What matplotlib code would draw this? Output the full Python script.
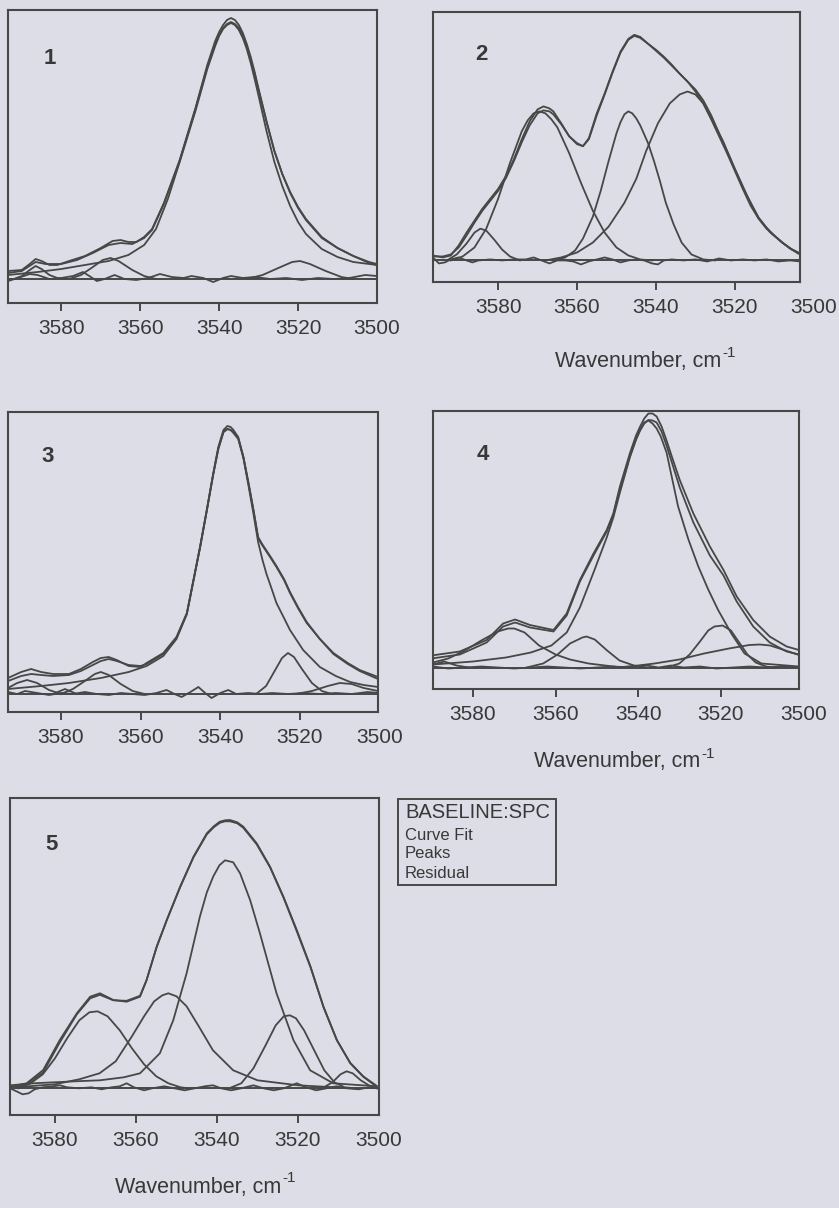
import matplotlib
matplotlib.use("Agg")
import matplotlib.pyplot as plt
from matplotlib.patches import Rectangle

plt.rcParams['font.family'] = ['Liberation Sans', 'DejaVu Sans']

BG = '#dcdde6'
INK = '#474747'
TEXT = '#383838'
W, H = 839, 1208

TICKS = [3580, 3560, 3540, 3520, 3500]

# ---------------- panel 1 (wavenumber, intensity a.u.) ----------------
p1_spectrum = [(3593.5, 8), (3590, 9), (3588, 15), (3586.5, 20), (3585, 18), (3583, 14), (3581, 14),
               (3578, 18), (3574, 23), (3570, 31), (3567, 38), (3565, 39), (3563, 37), (3561, 37),
               (3559, 42), (3557, 50), (3554, 76), (3550, 119), (3546, 171), (3543, 214), (3541, 238),
               (3540, 247), (3539, 254), (3538, 259), (3537, 261), (3536, 259), (3535, 254), (3534, 246),
               (3533, 235), (3532, 222), (3531, 207), (3530, 190), (3528, 158), (3526, 128), (3524, 105),
               (3522, 86), (3520, 71), (3518, 59), (3514, 41), (3510, 31), (3506, 23), (3502, 16), (3500, 14)]
p1_fit = [(3593.5, 6), (3590, 8), (3586.5, 17), (3584, 15), (3580, 15), (3576, 19), (3572, 26), (3568, 34),
          (3565, 36), (3562, 35), (3559, 41), (3557, 49), (3554, 75), (3550, 118), (3546, 170), (3543, 212),
          (3541, 235), (3540, 244), (3539, 251), (3538, 255), (3537, 257), (3536, 255), (3535, 251),
          (3534, 243), (3533, 233), (3532, 220), (3531, 205), (3530, 189), (3528, 157), (3526, 128),
          (3524, 105), (3522, 87), (3520, 72), (3518, 60), (3514, 42), (3510, 31), (3506, 23), (3502, 17),
          (3500, 15)]
p1_peak_a = [(3593.5, 4), (3586, 7), (3580, 10), (3574, 14), (3568, 18), (3563, 24), (3559, 34), (3556, 50),
             (3553, 80), (3550, 117), (3546, 168), (3543, 210), (3541, 233), (3540, 243), (3539, 250),
             (3538, 254), (3537, 256), (3536, 254), (3535, 249), (3534, 241), (3533, 230), (3532, 216),
             (3531, 200), (3530, 183), (3528, 148), (3526, 117), (3524, 93), (3522, 73), (3520, 57),
             (3518, 45), (3514, 30), (3510, 22), (3506, 17), (3502, 15), (3500, 14)]
p1_peak_b = [(3592, 0), (3590, 3), (3588, 9), (3586.5, 13), (3585, 10), (3583, 4), (3581, 1), (3579, 0)]
p1_peak_c = [(3578, 0), (3575, 4), (3572, 12), (3569.5, 19), (3567.5, 21), (3565.5, 18), (3562, 9),
             (3559, 3), (3556, 0)]
p1_peak_d = [(3533, 0), (3529, 4), (3525, 11), (3521.5, 17), (3519.5, 18), (3517, 15), (3513, 8),
             (3509, 2), (3506, 0)]
p1_residual = [(3593.5, -2), (3591, 1), (3588, 5), (3586, 4), (3583, 0), (3580, 1), (3577, 3), (3574.5, 7),
               (3572.5, 2), (3571, -2), (3569, 0), (3566.5, 4), (3564, 0), (3561, -1), (3558, 1), (3555, 5),
               (3552, 2), (3549, 1), (3547, 3), (3544, 1), (3541.5, -3), (3539, 1), (3537, 3), (3534, 1),
               (3531, 2), (3527, 0), (3523, 1), (3519, -1), (3515, 1), (3511, 0), (3507, 1), (3503, 4),
               (3500, 3)]

# ---------------- panel 2 ----------------
p2_spectrum = [(3596.5, 5), (3594, 3), (3592, 5), (3590, 15), (3588, 28), (3586, 40), (3584, 52), (3582, 62),
               (3580, 72), (3578, 85), (3576, 102), (3574, 122), (3572, 140), (3570, 152), (3568.5, 155),
               (3567, 153), (3566, 150), (3564, 138), (3562, 125), (3560, 118), (3558.5, 115), (3557, 123),
               (3555, 148), (3553, 168), (3551, 190), (3549, 210), (3547, 223), (3545.5, 227), (3544, 225),
               (3542, 218), (3540, 212), (3538, 205), (3536, 197), (3534, 188), (3532, 180), (3530, 170),
               (3528, 158), (3526, 142), (3524, 125), (3522, 108), (3520, 90), (3518, 72), (3516, 55),
               (3514, 42), (3512, 32), (3510, 25), (3508, 18), (3506, 12), (3504, 7), (3503.5, 6)]
p2_fit = [(3596.5, 4), (3594, 4), (3592, 6), (3590, 13), (3588, 25), (3586, 38), (3584, 50), (3582, 60),
          (3580, 70), (3578, 83), (3576, 100), (3574, 119), (3572, 136), (3570, 148), (3568.5, 151),
          (3567, 150), (3566, 147), (3564, 137), (3562, 125), (3560, 117), (3558.5, 115), (3557, 122),
          (3555, 146), (3553, 167), (3551, 189), (3549, 209), (3547, 222), (3545.5, 226), (3544, 224),
          (3542, 218), (3540, 211), (3538, 204), (3536, 196), (3534, 188), (3532, 180), (3530, 172),
          (3528, 161), (3526, 146), (3524, 128), (3522, 110), (3520, 92), (3518, 74), (3516, 57),
          (3514, 43), (3512, 33), (3510, 25), (3508, 18), (3506, 12), (3504, 8), (3503.5, 7)]
p2_peak_a = [(3593, 0), (3590.5, 6), (3588, 17), (3586, 28), (3584.5, 32), (3583, 30), (3581, 21),
             (3579, 11), (3577, 4), (3574.5, 0)]
p2_peak_b = [(3592, 0), (3589, 4), (3586, 13), (3583, 32), (3580, 62), (3577, 98), (3574, 130),
             (3572.5, 141), (3571, 148), (3569.5, 150), (3568, 148), (3566.5, 142), (3565, 134), (3562, 108),
             (3559, 78), (3556, 50), (3553, 28), (3550, 13), (3547, 5), (3544, 1), (3541, 0)]
p2_peak_c = [(3566, 0), (3563, 3), (3560.5, 10), (3558.5, 22), (3556, 44), (3554, 70), (3552, 100),
             (3550, 128), (3549, 139), (3548, 147), (3547, 150), (3546, 148), (3545, 143), (3544, 136),
             (3542, 118), (3540.5, 100), (3539, 80), (3537.5, 58), (3535.5, 36), (3533.5, 18), (3531, 6),
             (3528, 1), (3525, 0)]
p2_peak_d = [(3568, 0), (3564, 3), (3560, 8), (3556, 18), (3552, 34), (3548, 58), (3545, 82), (3542.5, 110),
             (3539.5, 138), (3536.5, 158), (3534, 167), (3532, 170), (3530, 167), (3528, 158), (3526, 143),
             (3523, 120), (3520, 92), (3517, 66), (3514, 43), (3511, 28), (3508, 18), (3505.5, 11),
             (3503.5, 7)]
p2_residual = [(3596.5, 3), (3595, -3), (3593.5, -2), (3592, 1), (3590, 3), (3588, 0), (3586.5, -2),
               (3585, 0), (3582, 1), (3579, 0), (3576, 1), (3573, 1), (3571, 3), (3569, 0), (3567, -3),
               (3565, 0), (3563, 0), (3561, -1), (3559, -4), (3557, -1), (3555, 1), (3553, 3), (3551, 1),
               (3549, -2), (3547, 0), (3545, 1), (3543, 0), (3541, -3), (3539.5, -4), (3538, 0), (3536, 1),
               (3533, 0), (3530, 1), (3527, -1), (3524, 2), (3521, 0), (3518, 1), (3515, 0), (3512, 1),
               (3509, -1), (3506, 0), (3503.5, -1)]

# ---------------- panel 3 ----------------
p3_spectrum = [(3593.3, 16), (3590, 22), (3587.5, 25), (3585, 22), (3582, 20), (3578, 20), (3575, 25),
               (3572, 32), (3570, 36), (3568, 37), (3566, 34), (3563, 28), (3560, 27), (3558.5, 31),
               (3554.3, 41), (3551, 57), (3548.4, 81), (3546.8, 113), (3545.1, 147), (3543.4, 184),
               (3541.8, 220), (3540.5, 247), (3539.2, 264), (3538.2, 268), (3537.4, 267), (3536.7, 264),
               (3535.5, 257), (3534.2, 237), (3532.9, 210), (3531.7, 184), (3530.5, 156), (3529.5, 149),
               (3527.5, 137), (3525.9, 127), (3524, 114), (3522.5, 101), (3520.5, 86), (3518.3, 71),
               (3515, 55), (3511.6, 41), (3508, 31), (3505, 24), (3500.4, 17)]
p3_fit = [(3593.3, 13), (3590, 18), (3587.5, 20), (3585, 19), (3582, 18), (3578, 19), (3575, 23), (3572, 29),
          (3570, 33), (3568, 35), (3566, 33), (3563, 29), (3560, 28), (3558.5, 30), (3554.3, 40), (3551, 56),
          (3548.4, 80), (3546.8, 112), (3545.1, 146), (3543.4, 183), (3541.8, 219), (3540.5, 245),
          (3539.2, 262), (3538.2, 265), (3537.4, 264), (3536.7, 262), (3535.5, 256), (3534.2, 237),
          (3532.9, 211), (3531.7, 185), (3530.5, 157), (3529.5, 150), (3527.5, 138), (3525.9, 128),
          (3524, 115), (3522.5, 102), (3520.5, 87), (3518.3, 72), (3515, 55), (3511.6, 40), (3508, 30),
          (3505, 23), (3500.4, 15)]
p3_peak_a = [(3593.3, 5), (3585, 8), (3578, 11), (3570, 16), (3563, 22), (3558.5, 28), (3554.3, 38),
             (3551, 55), (3548.4, 80), (3546.8, 112), (3545.1, 146), (3543.4, 183), (3541.8, 219),
             (3540.5, 245), (3539.2, 262), (3538.2, 265), (3537.4, 264), (3536.7, 261), (3535.5, 255),
             (3534.2, 236), (3532.9, 208), (3531.7, 181), (3530.5, 152), (3529.4, 134), (3528.4, 120),
             (3527, 104), (3525.9, 91), (3524, 76), (3522.5, 64), (3519.2, 44), (3515, 27), (3511, 18),
             (3507.4, 12), (3504, 9), (3500.4, 7)]
p3_peak_b = [(3531, 0), (3528.5, 8), (3526.5, 22), (3524.5, 36), (3523, 41), (3521.5, 37), (3519.5, 25),
             (3517, 11), (3514.5, 3), (3512, 0)]
p3_peak_c = [(3521, 0), (3517, 3), (3513, 8), (3510, 11), (3507, 10), (3504, 6), (3500.4, 3)]
p3_peak_d = [(3580, 0), (3577, 5), (3574, 13), (3571.5, 20), (3570, 22), (3568, 19), (3565, 10),
             (3562, 3), (3559, 0)]
p3_peak_e = [(3593.3, 6), (3591, 11), (3588.5, 14), (3586, 11), (3583, 4), (3580, 0)]
p3_peak_f = [(3582, 0), (3579, 5), (3576, 0)]
p3_residual = [(3593.3, 2), (3591, 0), (3589, 3), (3586, 1), (3583, -1), (3580, 1), (3577, 0), (3574, 2),
               (3571, 0), (3568, -1), (3565, 1), (3562, 0), (3559, -1), (3556, 1), (3553.5, 4), (3551.5, 0),
               (3549.7, -3), (3547.5, 2), (3545.5, 7), (3543.8, 1), (3542.2, -4), (3540, 1), (3538, 4),
               (3536, 0), (3533, 1), (3530, 0), (3527, 1), (3523, 0), (3519, 1), (3515, 0), (3511, 1),
               (3507, 0), (3503, 2), (3500.4, 1)]

# ---------------- panel 4 ----------------
p4_spectrum = [(3589.7, 12), (3589.2, 12.5), (3583.2, 16), (3576.7, 27.5), (3572.7, 44), (3569.8, 48),
               (3566.2, 42.5), (3560.5, 37.5), (3557.3, 54), (3554.1, 87.5), (3550.8, 114), (3547.6, 137.5),
               (3546, 154), (3544.4, 181), (3542, 214), (3540.5, 232), (3539.5, 241), (3538.5, 249),
               (3537.5, 254), (3536.5, 254), (3535.5, 251), (3534.3, 241), (3533.1, 227), (3531.5, 207),
               (3529.9, 187.5), (3526.6, 154), (3522.6, 121), (3519.3, 97.5), (3516.1, 71), (3512.1, 47.5),
               (3508.1, 31), (3504, 21), (3501, 17.5)]
p4_fit = [(3589.7, 9), (3589.2, 9.5), (3583.2, 13), (3576.7, 25), (3572.7, 41), (3569.8, 45), (3566.2, 40),
          (3560.5, 36), (3557.3, 52), (3554.1, 86), (3550.8, 112), (3547.6, 136), (3546, 152), (3544.4, 179),
          (3542, 211), (3540.5, 228), (3539.5, 237), (3538.5, 244), (3537.5, 247.5), (3536.5, 247),
          (3535.5, 245), (3534.3, 236), (3533.1, 222), (3531.5, 201), (3529.9, 180), (3526.6, 145),
          (3522.6, 112), (3519.3, 92), (3516.1, 66), (3512.1, 41), (3508.1, 25), (3504, 16), (3501, 13)]
p4_peak_a = [(3589.7, 3), (3580, 6), (3572, 10), (3566, 15), (3561, 22), (3557.3, 35), (3554.1, 60),
             (3550.8, 95), (3547.6, 130), (3546, 150), (3544.4, 175), (3542, 210), (3540.5, 228),
             (3539.5, 238), (3538.5, 245), (3537.5, 247), (3536.5, 244), (3535.5, 239), (3534.5, 231),
             (3533.1, 215), (3531.7, 188), (3530.3, 161), (3527.8, 128), (3525.4, 101), (3523, 78),
             (3520.6, 57.5), (3517.4, 34), (3514.2, 14), (3510.1, 4), (3501, 1)]
p4_peak_b = [(3589.7, 5), (3586, 9), (3582, 17), (3578, 27), (3574, 36), (3571.5, 39), (3570, 39),
             (3567.5, 35), (3564, 22), (3560, 13), (3556.5, 8), (3552, 4), (3548, 2), (3544, 0)]
p4_peak_c = [(3567, 0), (3563, 4), (3559.5, 13), (3556.5, 24), (3553.5, 30), (3552.5, 31), (3550.5, 28),
             (3547.5, 17), (3544.5, 7), (3541, 2), (3538, 0)]
p4_peak_d = [(3533, 0), (3530, 4), (3527.5, 13), (3525, 26), (3523, 37), (3521.5, 41), (3519.5, 42),
             (3517.5, 37), (3515.5, 25), (3513.5, 13), (3511.5, 5), (3509, 1), (3507, 0)]
p4_peak_e = [(3545, 0), (3540, 2), (3536, 4), (3530, 8), (3524, 14), (3518, 19), (3513, 22.5),
             (3510.5, 23), (3508, 22), (3505, 18), (3501, 12.5)]
p4_peak_f = [(3589.7, 3), (3587, 6), (3584, 2), (3581, 0)]
p4_residual = [(3589.7, 1), (3586, -1), (3582, 0), (3578, 1), (3574, 0), (3570, -1), (3566, 0), (3562, 1),
               (3558, 0), (3554, -1), (3550, 0), (3546, 1), (3542, 0), (3538, 2), (3535, 0), (3532, 2),
               (3529, 0), (3525, 1), (3521, -1), (3517, 0), (3513, 1), (3509, 0), (3505, 1), (3501, 0)]

# ---------------- panel 5 ----------------
p5_spectrum = [(3591.1, 1.7), (3587, 5), (3582.9, 18.3), (3578.8, 48.3), (3574.6, 75), (3571.3, 91.6),
               (3568.9, 95), (3565.6, 88.3), (3562.3, 86.6), (3559, 91.6), (3557.4, 108), (3554.9, 141.6),
               (3552.4, 168.3), (3549.1, 201.6), (3545.8, 231.6), (3542.5, 255), (3540.8, 262),
               (3539.3, 266.6), (3538, 268), (3536.8, 268.3), (3535, 266), (3533.5, 261.6), (3530.2, 245),
               (3526.9, 221.6), (3523.6, 191.6), (3520.3, 158.3), (3516.9, 121.6), (3513.7, 81.6),
               (3510.4, 48.3), (3507.1, 25), (3503.9, 11.6), (3500.6, 1.7)]
p5_fit = [(3591.1, 0), (3587, 4), (3582.9, 16), (3578.8, 46), (3574.6, 74), (3571.3, 90), (3568.9, 93.5),
          (3565.6, 88), (3562.3, 87.5), (3559, 92.5), (3557.4, 108), (3554.9, 141), (3552.4, 168),
          (3549.1, 201), (3545.8, 231), (3542.5, 254), (3540.8, 261), (3539.3, 265.5), (3538, 267),
          (3536.8, 267), (3535, 265), (3533.5, 260.5), (3530.2, 244), (3526.9, 221), (3523.6, 191),
          (3520.3, 157), (3516.9, 121), (3513.7, 81), (3510.4, 48), (3507.1, 25.5), (3503.9, 12),
          (3500.6, 2.5)]
p5_peak_a = [(3589, 0), (3586, 5), (3583, 14), (3580, 30), (3577, 50), (3574, 68), (3571.5, 76), (3569.5, 77),
             (3567, 72), (3564, 58), (3561, 40), (3558, 24), (3555, 12), (3552, 5), (3549, 1), (3547, 0)]
p5_peak_b = [(3590, 1), (3580, 4), (3574, 9), (3569, 15), (3565, 27), (3561, 52), (3558, 72), (3555.5, 87),
             (3553.5, 93), (3552, 95), (3550, 92), (3547.5, 82), (3544.5, 62), (3541, 38), (3536, 18),
             (3530, 8), (3520, 3), (3511, 1)]
p5_peak_c = [(3591, 3), (3585.3, 5), (3575, 7), (3568.9, 8), (3563, 11), (3559, 15), (3554.1, 35),
             (3550.8, 68), (3547.5, 115), (3544.2, 172), (3542.5, 196), (3540.9, 212), (3539.4, 223),
             (3538, 228), (3536, 226), (3534.3, 215), (3531.8, 188), (3529.4, 155), (3525.3, 95),
             (3521.1, 48), (3517, 18), (3511.3, 5), (3500.6, 2)]
p5_peak_d = [(3537, 0), (3534, 5), (3531, 20), (3528, 43), (3525.5, 63), (3523.5, 72), (3522, 73),
             (3520.5, 70), (3518.5, 58), (3516, 38), (3513.5, 18), (3511, 6), (3508.5, 1), (3506, 0)]
p5_peak_e = [(3514, 0), (3511.5, 6), (3509.5, 14), (3508, 17), (3506.5, 15), (3504.5, 8), (3502.5, 3),
             (3500.5, 0)]
p5_residual = [(3591.1, 0), (3589.5, -3), (3588, -6), (3586.5, -5), (3585, -1), (3583, 1), (3580.5, 2),
               (3578.8, 3), (3577, 1), (3574, 0), (3571, 1), (3568.5, -1), (3566, 1), (3564, 2), (3562.3, 5),
               (3560.5, 1), (3558, -2), (3556, 0), (3553, 2), (3550.5, 0), (3548, -2), (3545.5, 0), (3543, 2),
               (3541, 3), (3539, 0), (3536.5, -2), (3534, 0), (3531, 3), (3528.5, 0), (3526, -2),
               (3523.5, 0), (3520.3, 5), (3518, 1), (3515.5, -2), (3513, 0), (3510.5, 2), (3508, 0),
               (3505, -1), (3502.5, 1), (3500.6, 0)]

legend_lines = ['Curve Fit', 'Peaks', 'Residual']


def px_rect(x0, y0, x1, y1):
    return [x0 / W, 1 - y1 / H, (x1 - x0) / W, (y1 - y0) / H]


def draw_panel(ax, xlim, ylim, curves):
    ax.set_facecolor(BG)
    for pts in curves:
        xs, ys = zip(*pts)
        ax.plot(xs, ys, color=INK, lw=1.3, solid_joinstyle='round')
    ax.axhline(0, color=INK, lw=1.4)
    ax.set_xlim(*xlim)
    ax.set_ylim(*ylim)
    ax.set_yticks([])
    ax.set_xticks([t for t in TICKS if min(xlim) < t < max(xlim)])
    ax.set_xticklabels([])
    ax.tick_params(axis='x', direction='out', length=6, width=1.4, color=INK)
    for s in ax.spines.values():
        s.set_linewidth(1.5)
        s.set_color(INK)
    for t in TICKS:
        ax.annotate(str(t), xy=(t, 0), xycoords=('data', 'axes fraction'),
                    xytext=(0, -18.5), textcoords='offset points', ha='center', va='center',
                    fontsize=15, color=TEXT, annotation_clip=False)


fig = plt.figure(figsize=(W / 100, H / 100), dpi=100, facecolor=BG)

ax1 = fig.add_axes(px_rect(8, 10, 377, 303))
draw_panel(ax1, (3593.5, 3500), (-24, 269),
           [p1_spectrum, p1_fit, p1_peak_a, p1_peak_b, p1_peak_c, p1_peak_d, p1_residual])

ax2 = fig.add_axes(px_rect(433, 12, 800, 282))
draw_panel(ax2, (3596.5, 3503.5), (-21.7, 250),
           [p2_spectrum, p2_fit, p2_peak_a, p2_peak_b, p2_peak_c, p2_peak_d, p2_residual])

ax3 = fig.add_axes(px_rect(8, 412, 378, 712))
draw_panel(ax3, (3593.3, 3500.4), (-18, 282),
           [p3_spectrum, p3_fit, p3_peak_a, p3_peak_b, p3_peak_c, p3_peak_d, p3_peak_e, p3_peak_f,
            p3_residual])

ax4 = fig.add_axes(px_rect(433, 411, 799, 689))
draw_panel(ax4, (3589.7, 3501), (-21.5, 256.5),
           [p4_spectrum, p4_fit, p4_peak_a, p4_peak_b, p4_peak_c, p4_peak_d, p4_peak_e, p4_peak_f,
            p4_residual])

ax5 = fig.add_axes(px_rect(10, 798, 379, 1115))
draw_panel(ax5, (3591.1, 3500), (-26.7, 290.3),
           [p5_spectrum, p5_fit, p5_peak_a, p5_peak_b, p5_peak_c, p5_peak_d, p5_peak_e, p5_residual])

# panel numbers
for num, (px, py) in zip('12345', [(50, 58), (481, 55), (48, 457), (483, 455), (52, 845)]):
    fig.text(px / W, 1 - py / H, num, fontsize=16, fontweight='bold', color=TEXT,
             ha='center', va='center')

# axis titles: "Wavenumber, cm" with a small raised "-1" right after it
renderer = fig.canvas.get_renderer()
for px, py in [(647, 362), (626, 762), (207, 1187)]:
    main = fig.text((px - 9) / W, 1 - py / H, 'Wavenumber, cm', fontsize=15.5, color=TEXT,
                    ha='center', va='center')
    bb = main.get_window_extent(renderer)
    fig.text((bb.x1 + 1) / W, (bb.y1 + 5) / H, '-1', fontsize=11, color=TEXT,
             ha='left', va='top')

# legend box
fig.patches.append(Rectangle((398 / W, 1 - 885 / H), 158 / W, 86 / H, transform=fig.transFigure,
                             facecolor='none', edgecolor=INK, lw=1.4))
fig.text(405 / W, 1 - 812 / H, 'BASELINE:SPC', fontsize=14.5, color=TEXT, ha='left', va='center')
for label, py in zip(legend_lines, [835, 854, 873]):
    fig.text(405 / W, 1 - py / H, label, fontsize=12, color=TEXT, ha='left', va='center')

fig.savefig('out.png', dpi=100, facecolor=BG)
